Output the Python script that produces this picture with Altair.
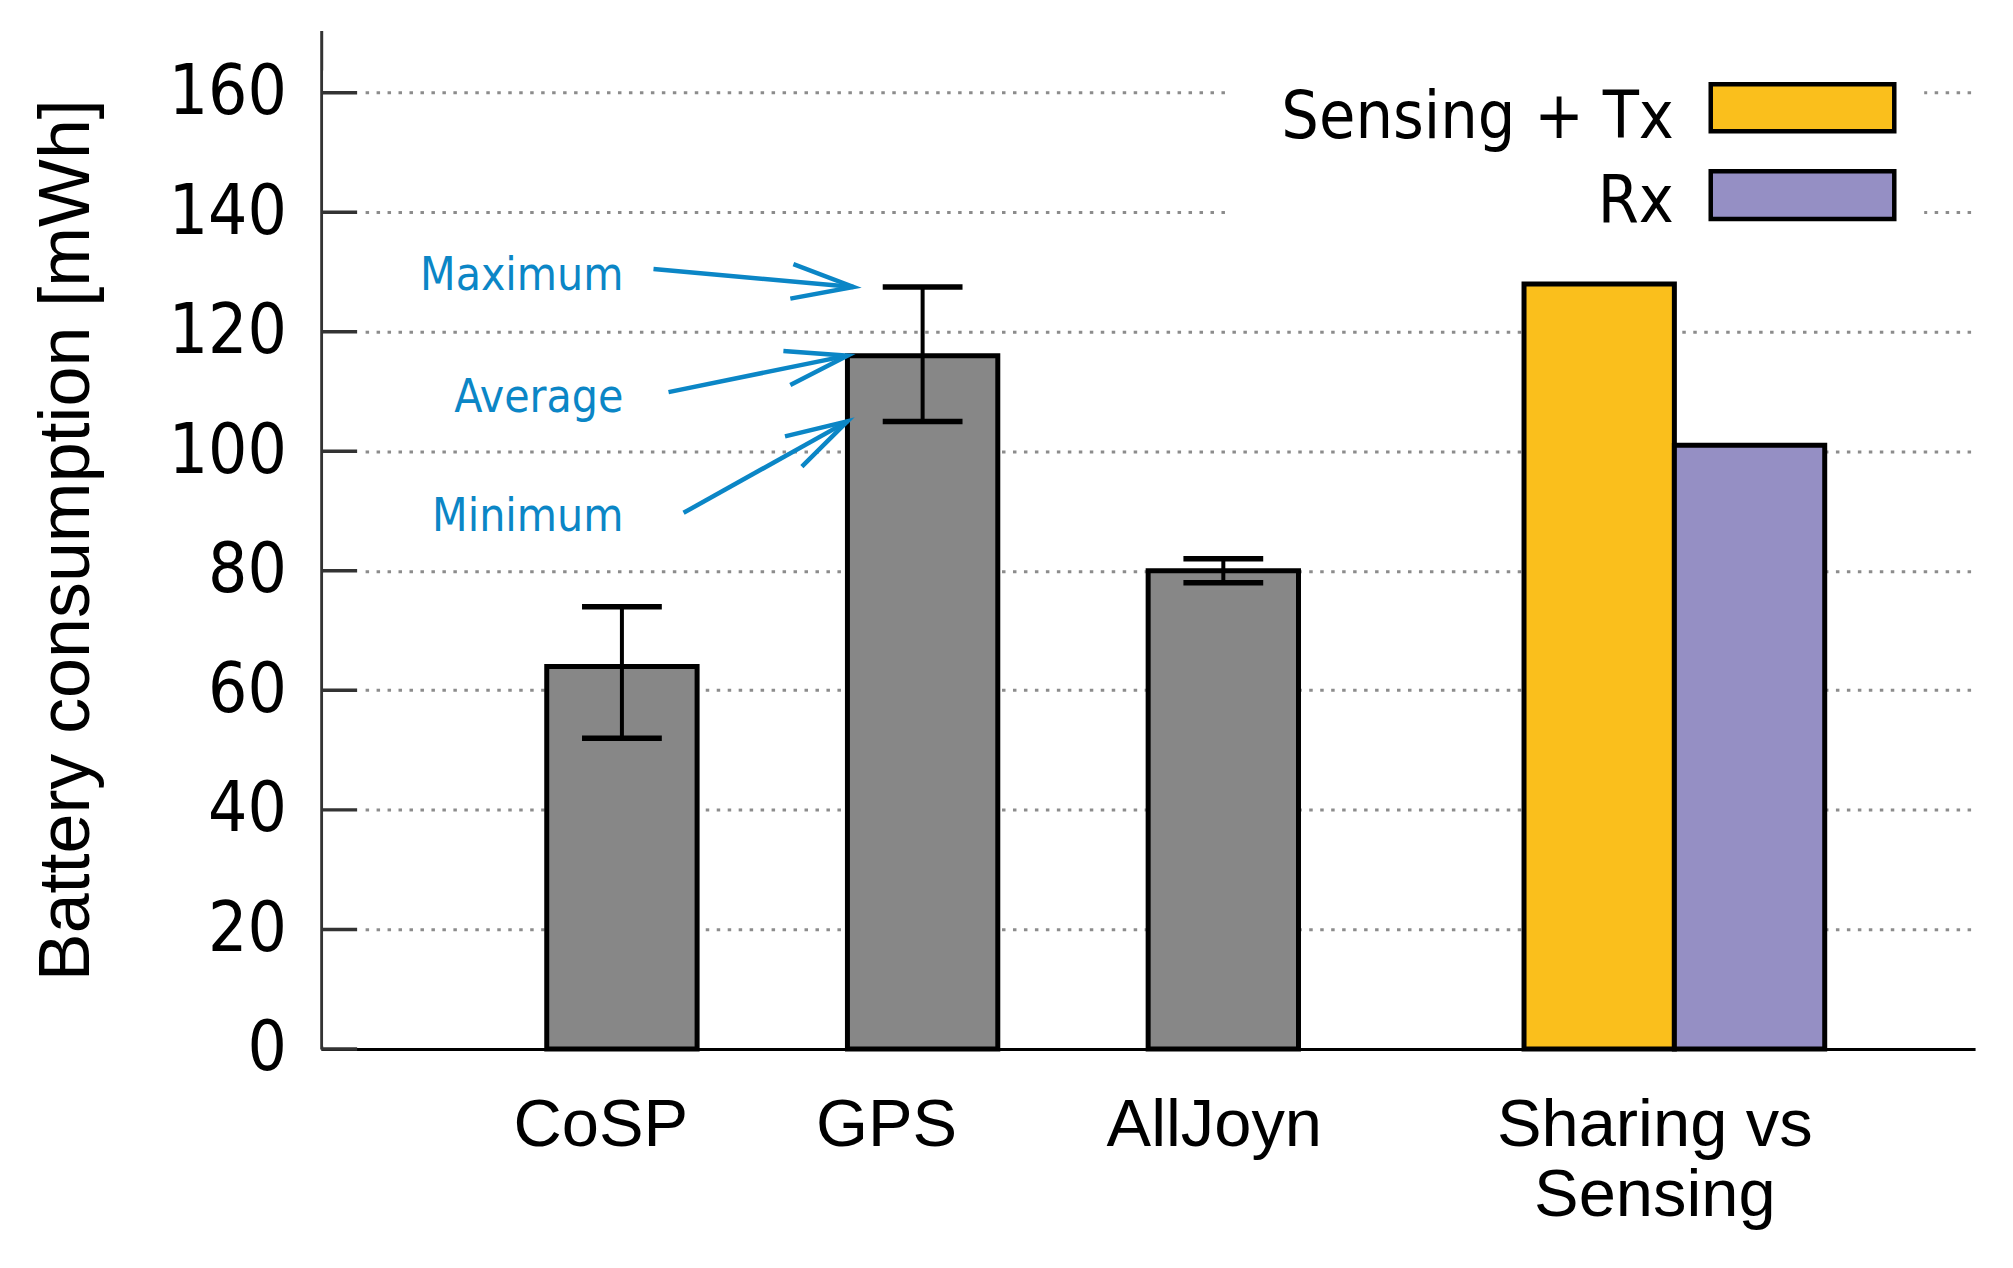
import math
import altair as alt
import pandas as pd

# ---------------- data ----------------
categories = ["CoSP", "GPS", "AllJoyn"]
avg_values = [64, 116, 80]
max_values = [74, 127.5, 82]
min_values = [52, 105, 78]
cat_pos = [2, 4, 6]

series = ["Sensing + Tx", "Rx"]
series_values = [128, 101]
series_pos = [8.5, 9.5]
series_colors = ["#FABF1C", "#958FC4"]

tick_labels = ["CoSP", "GPS", "AllJoyn", "Sharing vs\nSensing"]
tick_label_pos = [1.86, 3.76, 5.94, 8.87]

y_ticks = [0, 20, 40, 60, 80, 100, 120, 140, 160]

annot_labels = ["Maximum", "Average", "Minimum"]
annot_text_x = [2.01, 2.01, 2.01]
annot_text_y = [127.0, 106.6, 86.7]
annot_start_x = [2.21, 2.31, 2.41]
annot_start_y = [130.5, 109.9, 89.7]
annot_tip_x = [3.54, 3.50, 3.50]
annot_tip_y = [max_values[1], avg_values[1], min_values[1]]

# ---------------- layout / style ----------------
W, H = 1658, 1021
XMAX, YMAX = 11, 170.4
BLUE = "#0B86C6"
GRAY = "#878787"
NARROW = "Liberation Sans Narrow, DejaVu Sans Condensed, Liberation Sans, sans-serif"
COND = "DejaVu Sans Condensed, Liberation Sans Narrow, DejaVu Sans, sans-serif"
ARIAL = "Liberation Sans, Arial, sans-serif"

xscale = alt.Scale(domain=[0, XMAX], nice=False, zero=False)
yscale = alt.Scale(domain=[0, YMAX], nice=False)

cat_df = pd.DataFrame({"cat": categories, "pos": cat_pos, "avg": avg_values,
                       "max": max_values, "min": min_values})
ser_df = pd.DataFrame({"series": series, "pos": series_pos, "val": series_values})
lab_df = pd.DataFrame({"label": tick_labels, "p": tick_label_pos})
tick_df = pd.DataFrame({"v": y_ticks})

px_x = W / XMAX
px_y = H / YMAX
angles = [math.degrees(math.atan2(-(ty - sy) * px_y, (tx - sx) * px_x)) % 360
          for sx, sy, tx, ty in zip(annot_start_x, annot_start_y, annot_tip_x, annot_tip_y)]
ann_df = pd.DataFrame({"label": annot_labels, "tx": annot_text_x, "ty": annot_text_y,
                       "sx": annot_start_x, "sy": annot_start_y,
                       "ex": annot_tip_x, "ey": annot_tip_y, "ang": angles})

one = pd.DataFrame({"k": [0]})

y_axis = alt.Axis(values=y_ticks, title="Battery consumption [mWh]", grid=True,
                  gridDash=[3.5, 7.5], gridColor="#8c8c8c", gridWidth=3,
                  ticks=False, labelPadding=35, labelFont=NARROW, labelFontSize=69,
                  labelColor="black", labelOverlap=False,
                  domainColor="#333333", domainWidth=3,
                  titleFont=ARIAL, titleFontSize=72, titleFontWeight="normal",
                  titleColor="black", titleX=-233, titleY=H / 2, titleAngle=270,
                  titleBaseline="alphabetic", titleAlign="center")
x_axis = alt.Axis(labels=False, ticks=False, grid=False, title=None,
                  domainColor="black", domainWidth=3)


def X(field):
    return alt.X(field, scale=xscale, axis=x_axis)


def Y(field):
    return alt.Y(field, scale=yscale, axis=y_axis)


# legend background (hides grid)
legend_bg = alt.Chart(one).mark_rect(fill="white").encode(
    x=alt.value(911), x2=alt.value(1607), y=alt.value(15), y2=alt.value(225))

# white strip between inward ticks and start of gridlines
tick_gap = alt.Chart(one).mark_rect(fill="white").encode(
    x=alt.value(2), x2=alt.value(42), y=alt.value(40), y2=alt.value(H - 3))

gray_bars = alt.Chart(cat_df).transform_calculate(
    x0="datum.pos - 0.5", x1="datum.pos + 0.5"
).mark_rect(fill=GRAY, stroke="black", strokeWidth=5).encode(
    x=X("x0:Q"), x2="x1:Q", y=Y("avg:Q"), y2=alt.datum(0),
)

ser_bars = alt.Chart(ser_df).transform_calculate(
    x0="datum.pos - 0.5", x1="datum.pos + 0.5"
).mark_rect(stroke="black", strokeWidth=5).encode(
    x=X("x0:Q"), x2="x1:Q", y=Y("val:Q"), y2=alt.datum(0),
    fill=alt.Fill("series:N", scale=alt.Scale(domain=series, range=series_colors), legend=None),
)

stems = alt.Chart(cat_df).mark_rule(color="black", strokeWidth=4).encode(
    x=X("pos:Q"), y=Y("min:Q"), y2="max:Q",
)
cap_hi = alt.Chart(cat_df).mark_tick(orient="horizontal", size=80, thickness=5.5,
                                     color="black", opacity=1).encode(
    x=X("pos:Q"), y=Y("max:Q"),
)
cap_lo = alt.Chart(cat_df).mark_tick(orient="horizontal", size=80, thickness=5.5,
                                     color="black", opacity=1).encode(
    x=X("pos:Q"), y=Y("min:Q"),
)

inward_ticks = alt.Chart(tick_df).mark_rule(color="#333333", strokeWidth=3.5).encode(
    x=alt.value(0), x2=alt.value(36), y=Y("v:Q"),
)

x_labels = alt.Chart(lab_df).mark_text(
    font=ARIAL, fontSize=67, lineBreak="\n", lineHeight=70, align="center",
    baseline="alphabetic", color="black"
).encode(
    x=X("p:Q"), y=alt.value(H + 97), text="label:N",
)

ann_text = alt.Chart(ann_df).mark_text(
    font=COND, fontSize=46, align="right", baseline="alphabetic", color=BLUE
).encode(
    x=X("tx:Q"), y=Y("ty:Q"), text="label:N",
)
ann_lines = alt.Chart(ann_df).mark_rule(color=BLUE, strokeWidth=4.5).encode(
    x=X("sx:Q"), y=Y("sy:Q"), x2="ex:Q", y2="ey:Q",
)
ann_heads = alt.Chart(ann_df).mark_point(
    shape="M-1,-0.28L0,0L-1,0.28", filled=False, stroke=BLUE, strokeWidth=4.5,
    size=15376, opacity=1
).encode(
    x=X("ex:Q"), y=Y("ey:Q"), angle=alt.Angle("ang:Q", scale=None),
)

legend_layers = []
row_swatch_y = [(54, 101), (141, 189)]
row_text_y = [108, 192]
for i, name in enumerate(series):
    d = pd.DataFrame({"series": [name]})
    legend_layers.append(
        alt.Chart(d).mark_rect(fill=series_colors[i], stroke="black", strokeWidth=4.5).encode(
            x=alt.value(1393), x2=alt.value(1577),
            y=alt.value(row_swatch_y[i][0]), y2=alt.value(row_swatch_y[i][1]))
    )
    legend_layers.append(
        alt.Chart(d).mark_text(font=COND, fontSize=66, align="right",
                               baseline="alphabetic", color="black").encode(
            x=alt.value(1356), y=alt.value(row_text_y[i]), text="series:N")
    )

chart = alt.layer(
    gray_bars, legend_bg, tick_gap, ser_bars, stems, cap_hi, cap_lo, inward_ticks,
    x_labels, ann_lines, ann_heads, ann_text, *legend_layers
).properties(
    width=W, height=H,
    padding={"left": 314, "top": 21, "right": 30, "bottom": 200},
    autosize=alt.AutoSizeParams(type="none"),
).configure(background="white").configure_view(strokeWidth=0)

chart.save("out.html", embed_options={"renderer": "svg", "actions": False})
